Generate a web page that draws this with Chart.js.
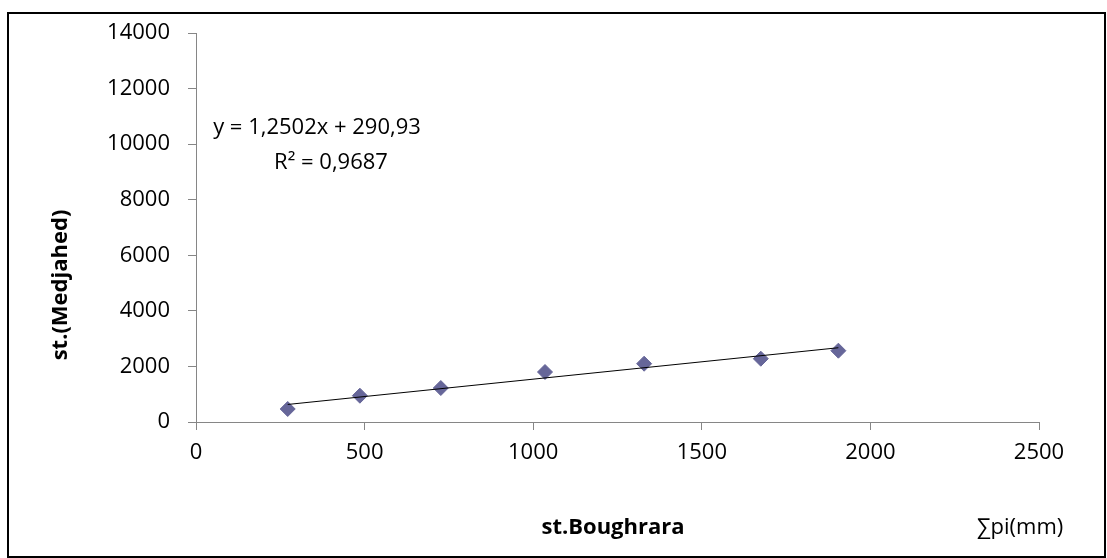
<!DOCTYPE html>
<html>
<head>
<meta charset="utf-8">
<script src="https://cdn.jsdelivr.net/npm/chart.js@4"></script>
<style>
  body { margin: 0; background: #fff; }
  canvas { display: block; }
</style>
</head>
<body>
<canvas id="chart" width="1107" height="558"></canvas>
<script>
const boughrara = [272, 486, 726, 1035, 1329, 1675, 1905];
const medjahed = [468, 946, 1223, 1799, 2098, 2278, 2566];
const slope = 1.2502;
const intercept = 290.93;
const equationText = "y = 1,2502x + 290,93";
const r2Text = "R² = 0,9687";

const points = boughrara.map((x, i) => ({ x: x, y: medjahed[i] }));
const xMin = Math.min(...boughrara);
const xMax = Math.max(...boughrara);
const trend = [
    { x: xMin, y: slope * xMin + intercept },
    { x: xMax, y: slope * xMax + intercept },
];

const axisGrey = "#868686";
const font = "'Open Sans', sans-serif";

// frame, axis titles and the trendline label
const extras = {
    id: "extras",
    beforeDraw(c) {
        const ctx = c.ctx;
        ctx.save();
        ctx.fillStyle = "#fff";
        ctx.fillRect(0, 0, c.width, c.height);
        ctx.restore();
    },
    afterDraw(c) {
        const ctx = c.ctx;
        ctx.save();
        ctx.strokeStyle = "#000";
        ctx.lineWidth = 2;
        ctx.strokeRect(8, 13, 1097, 544);

        ctx.fillStyle = "#000";
        ctx.textAlign = "center";
        ctx.textBaseline = "middle";
        ctx.font = "22px " + font;
        ctx.fillText(equationText, 317, 128);
        ctx.fillText(r2Text, 331, 163);
        ctx.fillText("∑pi(mm)", 1020, 528);

        ctx.font = "bold 22px " + font;
        ctx.fillText("st.Boughrara", 613, 528);

        ctx.translate(61, 285);
        ctx.rotate(-Math.PI / 2);
        ctx.fillText("st.(Medjahed)", 0, 0);
        ctx.restore();
    },
};

const plain = (v) => String(v);

new Chart(document.getElementById("chart"), {
    type: "scatter",
    data: {
        datasets: [
            {
                type: "line",
                data: trend,
                borderColor: "#000",
                borderWidth: 1,
                pointRadius: 0,
                fill: false,
            },
            {
                data: points,
                pointStyle: "rectRot",
                pointRadius: 7.5,
                backgroundColor: "#666699",
                borderColor: "#666699",
                borderWidth: 1,
            },
        ],
    },
    options: {
        responsive: false,
        animation: false,
        layout: { padding: { left: 0, top: 33, right: 68, bottom: 0 } },
        plugins: {
            legend: { display: false },
            tooltip: { enabled: false },
        },
        scales: {
            x: {
                type: "linear",
                min: 0,
                max: 2500,
                ticks: { stepSize: 500, color: "#000", font: { family: font, size: 22 }, padding: 10, callback: plain },
                grid: { drawOnChartArea: false, color: axisGrey, tickLength: 8 },
                border: { color: axisGrey },
                afterFit: (s) => { s.height = 136; },
            },
            y: {
                min: 0,
                max: 14000,
                ticks: { stepSize: 2000, color: "#000", font: { family: font, size: 22 }, padding: 18, callback: plain },
                grid: { drawOnChartArea: false, color: axisGrey, tickLength: 8 },
                border: { color: axisGrey },
                afterFit: (s) => { s.width = 196; },
            },
        },
    },
    plugins: [extras],
});
</script>
</body>
</html>
